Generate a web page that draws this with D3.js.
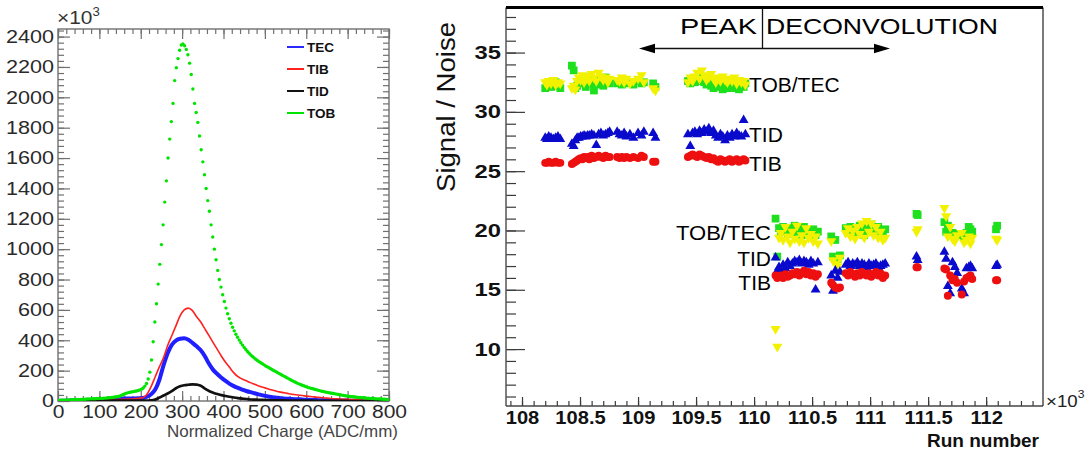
<!DOCTYPE html>
<html>
<head>
<meta charset="utf-8">
<script src="https://cdn.jsdelivr.net/npm/d3@7"></script>
<style>
  html, body { margin: 0; padding: 0; background: #fff; }
  svg { display: block; font-family: "Liberation Sans", Arial, Helvetica, sans-serif; }
</style>
</head>
<body>
<svg id="chart" width="1089" height="452"></svg>
<script>
// ---------- left panel data: charge distributions, entries x10^3 ----------
// TOB histogram, bins of 4 ADC/mm starting at 0 (200 bins)
const tobBinWidth = 4;
const tobCounts = [
  4,5,5,6,6,7,7,8,8,9,
  9,10,10,11,11,12,12,13,13,14,
  14,15,15,16,16,17,17,18,19,20,
  21,22,23,25,26,28,30,33,38,43,
  48,52,55,58,60,62,64,66,69,73,
  78,86,98,115,145,190,270,390,520,640,
  770,900,1030,1160,1310,1450,1600,1725,1840,1960,
  2110,2195,2255,2310,2345,2352,2340,2315,2280,2225,
  2150,2055,1960,1900,1835,1745,1655,1575,1490,1400,
  1320,1250,1160,1080,1000,930,860,800,750,700,
  655,612,575,542,512,486,462,440,420,401,
  384,368,353,339,326,314,303,293,284,275,
  267,259,252,245,238,231,225,219,212,206,
  200,194,188,182,176,170,164,158,152,146,
  140,134,128,123,118,113,109,104,100,96,
  92,88,85,82,79,76,73,70,67,64,
  62,59,57,55,53,51,49,47,45,43,
  41,39,37,35,33,32,30,29,28,26,
  25,24,23,22,21,20,19,18,17,16,
  16,15,14,14,13,13,12,12,11,11
];
// TEC, TIB, TID histograms, bins of 10 ADC/mm starting at 0 (80 bins)
const coarseBinWidth = 10;
const tecCounts = [
  2,2,2,3,3,3,4,4,5,5,
  6,7,8,10,14,16,17,17,17,18,
  20,28,45,75,140,235,315,370,398,410,
  413,403,383,360,334,295,245,205,178,153,
  132,113,98,86,75,66,58,51,44,37,
  31,27,23,20,17,15,13,12,11,9,
  8,7,6,5,5,4,4,3,3,3,
  2,2,2,2,2,1,1,1,1,1
];
const tibCounts = [
  2,2,3,3,4,4,5,5,6,6,
  7,7,8,9,10,11,12,13,15,18,
  22,45,95,160,225,285,365,430,495,560,
  600,612,595,555,520,475,430,385,340,295,
  255,220,185,160,145,133,121,110,99,90,
  82,74,67,60,55,50,45,41,38,34,
  31,28,25,23,20,18,15,14,12,11,
  10,9,8,7,6,5,5,4,4,3
];
const tidCounts = [
  0,1,1,2,2,3,4,6,7,6,
  5,4,3,3,3,2,2,2,2,2,
  2,3,4,9,22,36,49,65,84,97,
  104,107,109,108,100,82,66,55,46,39,
  33,28,23,19,16,13,10,9,8,7,
  6,5,5,4,4,3,3,3,2,2,
  2,2,1,1,1,1,1,1,1,1,
  0,0,0,0,0,0,0,0,0,0
];
const legendNames = ["TEC", "TIB", "TID", "TOB"];
const leftXTicks = [0, 100, 200, 300, 400, 500, 600, 700, 800];
const leftYTicks = [0, 200, 400, 600, 800, 1000, 1200, 1400, 1600, 1800, 2000, 2200, 2400];

// ---------- right panel data: signal / noise per run ----------
const runs = [
  108200,108215,108230,108250,108270,108290,108310,108330,
  108430,108445,108460,108475,108490,108505,108520,108535,108550,108565,108580,108600,108620,108640,108660,108680,108700,108720,108740,108755,
  108820,108840,108860,108880,108900,108930,108960,109000,109030,109050,
  109130,109150,
  109430,109450,109470,109490,109510,109530,109550,109570,109590,109610,109630,109650,109670,109690,109710,109730,109750,109770,109790,109810,109830,109850,109870,109890,109910,109925,
  110185,110200,110215,110230,110250,110270,110290,110310,110330,110350,110370,110390,110410,110430,110450,110470,110490,110510,110530,110550,
  110665,110680,110700,110720,110740,
  110790,110810,110830,110850,110870,110890,110910,110930,110950,110970,110990,111010,111030,111050,111070,111090,111110,111130,
  111400,111410,
  111640,111655,111670,111690,111710,111730,111750,111790,111810,111830,111850,111865,111880,
  112085,112095
];
const snTOB = [
  32.0,32.2,32.4,32.1,32.3,32.5,32.2,32.0,
  33.9,33.5,32.0,32.2,32.5,32.6,32.4,32.8,32.1,32.6,32.9,32.4,31.8,32.3,32.7,32.5,32.2,32.9,32.6,32.4,
  32.4,32.5,32.3,32.6,32.4,32.5,32.3,32.6,32.4,32.5,
  32.4,32.1,
  32.6,32.4,32.8,32.5,32.7,32.9,32.6,32.5,32.3,32.6,32.2,32.0,32.4,32.1,32.5,31.9,32.3,32.0,32.4,32.2,32.0,32.3,31.9,32.2,32.1,32.4,
  21.0,17.8,20.2,19.9,20.3,20.0,19.7,20.2,19.8,20.4,19.9,20.1,19.6,20.3,19.8,20.0,19.7,20.1,19.6,19.9,
  19.5,17.8,19.2,17.6,17.9,
  20.2,19.9,20.3,19.7,20.1,19.8,20.4,20.0,19.6,20.2,19.9,20.5,20.1,19.8,20.3,19.9,19.6,20.1,
  21.4,21.3,
  20.7,19.9,20.4,19.6,19.8,19.5,19.7,19.6,19.4,19.8,20.3,20.1,19.9,
  20.1,20.4
];
const snTEC = [
  32.5,32.3,32.6,32.4,32.7,32.3,32.5,32.4,
  32.0,32.2,31.9,32.6,32.9,32.7,33.1,32.5,32.8,33.0,32.6,33.2,32.9,32.6,33.3,33.0,32.7,32.9,32.5,32.8,
  32.7,32.6,32.9,32.5,32.8,32.4,32.6,32.8,33.1,32.5,
  32.0,31.8,
  32.5,32.9,32.6,33.0,33.3,32.8,33.5,33.1,32.7,32.9,33.2,32.8,32.5,32.9,32.6,33.0,32.7,32.5,32.8,32.6,32.9,32.4,32.7,32.5,32.6,32.3,
  11.7,10.2,19.4,19.8,19.2,20.3,19.5,19.0,19.9,19.3,20.4,19.1,19.6,19.0,20.2,19.4,19.7,19.1,19.5,18.9,
  19.1,17.5,17.2,17.0,17.7,
  19.8,20.2,19.5,20.0,19.3,20.3,19.7,20.6,19.4,20.8,19.9,20.6,19.6,20.3,19.4,19.9,19.2,19.4,
  19.9,20.1,
  21.9,21.2,19.5,20.3,19.3,19.1,19.6,19.8,19.0,19.2,19.5,18.9,19.4,
  19.3,19.2
];
const snTID = [
  27.8,27.7,27.9,27.8,27.7,27.8,27.9,27.7,
  27.3,27.1,27.6,27.8,27.8,27.9,27.9,28.0,27.9,28.0,28.0,28.1,28.0,27.2,28.1,28.2,28.0,28.1,28.2,28.3,
  28.3,28.1,28.0,28.2,27.9,28.1,27.8,28.2,28.0,28.3,
  28.2,27.8,
  28.1,27.1,28.2,28.3,28.1,28.4,28.2,28.5,28.3,28.6,28.2,28.4,28.0,27.8,28.1,27.9,27.6,28.0,27.8,28.1,27.9,28.2,28.0,27.9,29.3,28.1,
  17.7,16.6,16.9,16.5,17.1,16.8,17.3,17.0,17.2,17.4,17.3,17.5,17.2,17.4,17.3,17.1,17.4,17.2,15.0,17.3,
  16.2,14.9,16.6,16.0,16.5,
  17.1,17.3,17.0,17.2,17.1,17.3,17.0,17.2,17.1,16.9,17.2,17.0,17.1,17.2,16.9,17.0,17.1,17.2,
  17.8,17.5,
  18.2,17.6,15.3,14.7,17.3,16.9,16.4,15.1,14.7,16.8,16.9,17.0,16.8,
  17.0,17.1
];
const snTIB = [
  25.7,25.7,25.8,25.7,25.7,25.8,25.7,25.7,
  25.6,25.7,25.8,25.9,26.0,26.1,26.0,26.2,26.1,26.2,26.0,26.3,26.1,26.2,26.3,26.2,26.1,26.3,26.2,26.2,
  26.2,26.1,26.2,26.1,26.2,26.1,26.2,26.1,26.3,26.2,
  25.8,25.8,
  26.2,26.3,26.4,26.3,26.2,26.4,26.3,26.2,26.1,26.2,26.0,26.1,25.9,25.8,26.0,25.9,25.8,25.9,26.0,25.8,25.9,26.0,25.8,25.9,26.0,25.9,
  16.2,16.0,16.1,16.2,16.0,16.3,16.1,16.2,16.4,16.3,16.5,16.2,16.4,16.6,16.3,16.5,16.2,16.4,16.1,16.3,
  15.6,15.4,15.2,15.1,15.2,
  16.4,16.2,16.5,16.3,16.1,16.4,16.2,16.5,16.3,16.2,16.4,16.1,16.3,16.5,16.2,16.4,16.0,16.2,
  16.9,16.9,
  16.8,16.7,14.5,16.2,15.8,15.9,15.6,14.6,15.7,16.0,16.1,16.2,15.9,
  15.8,15.8
];
const rightXTicks = [108000, 108500, 109000, 109500, 110000, 110500, 111000, 111500, 112000];
const rightYTicks = [10, 15, 20, 25, 30, 35];

// ---------- helpers ----------
const svg = d3.select("#chart");
const FONT = '"Liberation Sans", Arial, sans-serif';

// the reference fonts are wider than Liberation Sans, stretch glyphs horizontally
function widen(sel, k) {
  sel.each(function () {
    const t = d3.select(this);
    const x = +t.attr("x") || 0, y = +t.attr("y") || 0;
    t.attr("transform", `translate(${x},${y}) scale(${k},1) translate(${-x},${-y})`);
  });
}

function styleAxis(g, color) {
  g.select(".domain").remove();
  g.selectAll(".tick line").attr("stroke", color).attr("stroke-width", 1.2);
}

// ================= LEFT PANEL =================
const L = { x0: 58, x1: 389, y0: 29, y1: 401 };
const xL = d3.scaleLinear().domain([0, 800]).range([L.x0, L.x1]);
const yL = d3.scaleLinear().domain([0, 2450]).range([L.y1, L.y0]);
const frameGrey = "#707070";

const left = svg.append("g");

left.append("clipPath").attr("id", "clipL")
  .append("rect").attr("x", L.x0).attr("y", L.y0)
  .attr("width", L.x1 - L.x0).attr("height", L.y1 - L.y0);

// minor ticks, all four sides
left.append("g").attr("transform", `translate(${L.x0},0)`)
  .call(d3.axisLeft(yL).tickValues(d3.range(0, 2441, 40)).tickSize(-6).tickFormat(""))
  .call(styleAxis, frameGrey);
left.append("g").attr("transform", `translate(${L.x1},0)`)
  .call(d3.axisRight(yL).tickValues(d3.range(0, 2441, 40)).tickSize(-6).tickFormat(""))
  .call(styleAxis, frameGrey);
left.append("g").attr("transform", `translate(0,${L.y1})`)
  .call(d3.axisBottom(xL).tickValues(d3.range(0, 801, 20)).tickSize(-5).tickFormat(""))
  .call(styleAxis, frameGrey);
left.append("g").attr("transform", `translate(0,${L.y0})`)
  .call(d3.axisTop(xL).tickValues(d3.range(0, 801, 20)).tickSize(-5).tickFormat(""))
  .call(styleAxis, frameGrey);
left.append("g").attr("transform", `translate(${L.x1},0)`)
  .call(d3.axisRight(yL).tickValues(leftYTicks).tickSize(-12).tickFormat(""))
  .call(styleAxis, frameGrey);
left.append("g").attr("transform", `translate(0,${L.y0})`)
  .call(d3.axisTop(xL).tickValues(leftXTicks).tickSize(-10).tickFormat(""))
  .call(styleAxis, frameGrey);

// labelled axes
const yAxL = left.append("g").attr("transform", `translate(${L.x0},0)`)
  .call(d3.axisLeft(yL).tickValues(leftYTicks).tickSize(-12).tickPadding(4).tickFormat(d3.format("d")))
  .call(styleAxis, frameGrey);
yAxL.selectAll("text").attr("font-size", 18).attr("fill", "#2a2a2a").attr("font-family", FONT);
widen(yAxL.selectAll("text"), 1.2);

const xAxL = left.append("g").attr("transform", `translate(0,${L.y1})`)
  .call(d3.axisBottom(xL).tickValues(leftXTicks).tickSize(-10).tickPadding(4).tickFormat(d3.format("d")))
  .call(styleAxis, frameGrey);
xAxL.selectAll("text").attr("font-size", 18).attr("fill", "#2a2a2a").attr("font-family", FONT);
widen(xAxL.selectAll("text"), 1.17);

left.append("rect")
  .attr("x", L.x0).attr("y", L.y0)
  .attr("width", L.x1 - L.x0).attr("height", L.y1 - L.y0)
  .attr("fill", "none").attr("stroke", frameGrey).attr("stroke-width", 1.4);

// x10^3 multiplier
const mulL = left.append("text").attr("x", 57).attr("y", 24)
  .attr("font-size", 19).attr("fill", "#333");
mulL.append("tspan").text("\u00d710");
mulL.append("tspan").attr("dy", -8).attr("font-size", 12).text("3");
widen(mulL, 1.1);

// axis title
left.append("text")
  .attr("x", 398).attr("y", 437)
  .attr("text-anchor", "end")
  .attr("font-size", 16.5).attr("fill", "#444")
  .attr("textLength", 231).attr("lengthAdjust", "spacingAndGlyphs")
  .text("Normalized Charge (ADC/mm)");

// curves
const plotL = left.append("g").attr("clip-path", "url(#clipL)");
const coarse = counts => counts.map((v, i) => ({ x: (i + 0.5) * coarseBinWidth, y: v }));
const lineL = d3.line().x(d => xL(d.x)).y(d => yL(d.y)).curve(d3.curveMonotoneX);

plotL.append("path").attr("d", lineL(coarse(tecCounts)))
  .attr("fill", "none").attr("stroke", "#1f1fff").attr("stroke-width", 4);
plotL.append("path").attr("d", lineL(coarse(tibCounts)))
  .attr("fill", "none").attr("stroke", "#ff2020").attr("stroke-width", 1.6);
plotL.append("path").attr("d", lineL(coarse(tidCounts)))
  .attr("fill", "none").attr("stroke", "#111").attr("stroke-width", 2.7);

plotL.selectAll("circle.tob")
  .data(tobCounts.map((v, i) => ({ x: (i + 0.5) * tobBinWidth, y: v })))
  .enter().append("circle")
  .attr("class", "tob")
  .attr("cx", d => xL(d.x))
  .attr("cy", d => yL(d.y))
  .attr("r", 1.7)
  .attr("fill", "#00e400");

// legend
const legColors = { TEC: "#2a2aff", TIB: "#ff2020", TID: "#111", TOB: "#00e400" };
const leg = left.append("g");
legendNames.forEach((name, i) => {
  const y = 47 + i * 22;
  leg.append("line").attr("x1", 287).attr("x2", 304).attr("y1", y).attr("y2", y)
    .attr("stroke", legColors[name]).attr("stroke-width", 2);
  leg.append("text").attr("x", 307).attr("y", y + 5)
    .attr("font-size", 13.5).attr("font-weight", "bold").attr("fill", "#111")
    .text(name);
});

// ================= RIGHT PANEL =================
const R = { x0: 506, x1: 1043, y0: 7.5, y1: 406 };
const xR = d3.scaleLinear().domain([107862, 112490]).range([R.x0, R.x1]);
const yR = d3.scaleLinear().domain([5.2, 38.8]).range([R.y1, R.y0]);
const axisDark = "#3a3a3a";

const right = svg.append("g");

// minor ticks
right.append("g").attr("transform", `translate(${R.x0},0)`)
  .call(d3.axisLeft(yR).tickValues(d3.range(6, 39, 1)).tickSize(-10).tickFormat(""))
  .call(styleAxis, axisDark);
right.append("g").attr("transform", `translate(0,${R.y1})`)
  .call(d3.axisBottom(xR).tickValues(d3.range(107900, 112450, 100)).tickSize(-5).tickFormat(""))
  .call(styleAxis, axisDark);

const yAxR = right.append("g").attr("transform", `translate(${R.x0},0)`)
  .call(d3.axisLeft(yR).tickValues(rightYTicks).tickSize(-19).tickPadding(5))
  .call(styleAxis, axisDark);
yAxR.selectAll("text").attr("font-size", 19).attr("font-weight", "bold").attr("fill", "#111")
  .attr("font-family", FONT);
widen(yAxR.selectAll("text"), 1.25);

const xAxR = right.append("g").attr("transform", `translate(0,${R.y1})`)
  .call(d3.axisBottom(xR).tickValues(rightXTicks).tickSize(-9).tickPadding(6)
    .tickFormat(d => d / 1000))
  .call(styleAxis, axisDark);
xAxR.selectAll("text").attr("font-size", 17.5).attr("font-weight", "bold").attr("fill", "#111")
  .attr("font-family", FONT);
widen(xAxR.selectAll("text"), 1.15);

// frame
right.append("line").attr("x1", R.x0).attr("x2", R.x0).attr("y1", R.y0).attr("y2", R.y1)
  .attr("stroke", "#555").attr("stroke-width", 1.5);
right.append("line").attr("x1", R.x0).attr("x2", R.x1).attr("y1", R.y1).attr("y2", R.y1)
  .attr("stroke", "#444").attr("stroke-width", 1.5);
right.append("line").attr("x1", R.x1).attr("x2", R.x1).attr("y1", R.y0).attr("y2", R.y1)
  .attr("stroke", "#222").attr("stroke-width", 1.2);
right.append("line").attr("x1", R.x0).attr("x2", R.x1).attr("y1", R.y0).attr("y2", R.y0)
  .attr("stroke", "#000").attr("stroke-width", 3);

// axis titles
right.append("text")
  .attr("transform", "translate(455,107) rotate(-90)")
  .attr("text-anchor", "middle")
  .attr("font-size", 26).attr("fill", "#111")
  .attr("textLength", 170).attr("lengthAdjust", "spacingAndGlyphs")
  .text("Signal / Noise");

right.append("text")
  .attr("x", 1039).attr("y", 447)
  .attr("text-anchor", "end")
  .attr("font-size", 18.5).attr("font-weight", "bold").attr("fill", "#111")
  .attr("textLength", 112).attr("lengthAdjust", "spacingAndGlyphs")
  .text("Run number");

const mulR = right.append("text").attr("x", 1046).attr("y", 407)
  .attr("font-size", 17).attr("fill", "#222");
mulR.append("tspan").text("\u00d710");
mulR.append("tspan").attr("dy", -9).attr("font-size", 11).text("3");
widen(mulR, 1.1);

// peak / deconvolution annotation
right.append("line").attr("x1", 762.5).attr("x2", 762.5).attr("y1", R.y0).attr("y2", 48.5)
  .attr("stroke", "#111").attr("stroke-width", 1.3);
right.append("line").attr("x1", 650).attr("x2", 879).attr("y1", 48.5).attr("y2", 48.5)
  .attr("stroke", "#111").attr("stroke-width", 1.3);
right.append("path").attr("d", "M639,48.5 L655,43.8 L655,53.2 Z").attr("fill", "#000");
right.append("path").attr("d", "M890,48.5 L874,43.8 L874,53.2 Z").attr("fill", "#000");
right.append("text").attr("x", 757).attr("y", 34).attr("text-anchor", "end")
  .attr("font-size", 21.5).attr("fill", "#000")
  .attr("textLength", 77).attr("lengthAdjust", "spacingAndGlyphs")
  .text("PEAK");
right.append("text").attr("x", 766).attr("y", 34)
  .attr("font-size", 21.5).attr("fill", "#000")
  .attr("textLength", 232).attr("lengthAdjust", "spacingAndGlyphs")
  .text("DECONVOLUTION");

// series markers
const pts = vals => runs.map((r, i) => ({ r: r, v: vals[i] }));
function markers(vals, type, size, color, rot) {
  right.append("g").selectAll("path")
    .data(pts(vals)).enter().append("path")
    .attr("d", d3.symbol().type(type).size(size))
    .attr("transform", d => `translate(${xR(d.r)},${yR(d.v)})` + (rot ? " rotate(180)" : ""))
    .attr("fill", color);
}
markers(snTOB, d3.symbolSquare, 60, "#1ee01e", false);
markers(snTEC, d3.symbolTriangle, 44, "#f2f200", true);
markers(snTID, d3.symbolTriangle, 42, "#0a0acc", false);
markers(snTIB, d3.symbolCircle, 50, "#ee1010", false);

// series labels
const labStyle = sel => sel.attr("font-size", 21).attr("fill", "#000");
right.append("text").attr("x", 749).attr("y", 92).text("TOB/TEC").call(labStyle);
right.append("text").attr("x", 749).attr("y", 142).text("TID").call(labStyle);
right.append("text").attr("x", 749).attr("y", 171).text("TIB").call(labStyle);
right.append("text").attr("x", 771).attr("y", 240).attr("text-anchor", "end")
  .attr("textLength", 95).attr("lengthAdjust", "spacingAndGlyphs").text("TOB/TEC").call(labStyle);
right.append("text").attr("x", 771).attr("y", 266).attr("text-anchor", "end").text("TID").call(labStyle);
right.append("text").attr("x", 771).attr("y", 290).attr("text-anchor", "end").text("TIB").call(labStyle);
</script>
</body>
</html>
